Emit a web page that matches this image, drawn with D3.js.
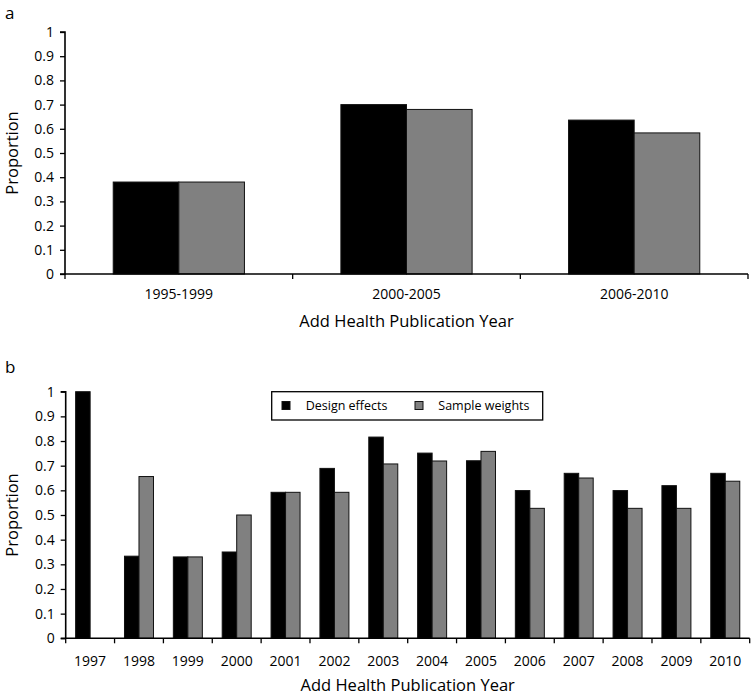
<!DOCTYPE html>
<html><head><meta charset="utf-8">
<script src="https://cdn.jsdelivr.net/npm/d3@7"></script>
<style>
body{margin:0;background:#fff;}
text{font-family:"Open Sans",sans-serif;fill:#000;}
</style></head>
<body>
<svg id="chart" width="751" height="695"></svg>
<script>
// Panel a data
const periods = ["1995-1999","2000-2005","2006-2010"];
const designA = [0.38,0.70,0.636];
const weightsA = [0.38,0.68,0.583];
// Panel b data
const years = ["1997","1998","1999","2000","2001","2002","2003","2004","2005","2006","2007","2008","2009","2010"];
const designB = [1.0,0.333,0.33,0.35,0.592,0.689,0.816,0.751,0.72,0.599,0.669,0.599,0.619,0.669];
const weightsB = [0,0.656,0.33,0.5,0.592,0.592,0.707,0.719,0.758,0.527,0.65,0.527,0.527,0.637];
const yTicks = [0,0.1,0.2,0.3,0.4,0.5,0.6,0.7,0.8,0.9,1];
const seriesNames = ["Design effects","Sample weights"];
const colors = ["#000000","#808080"];

const svg = d3.select("#chart");

function panel(opts){
  const {cats, s1, s2, x0, x1, yTop, yBot, pad, label, labelY, tickLabelY, titleY} = opts;
  const g = svg.append("g");
  const x = d3.scaleBand().domain(cats).range([x0,x1]).padding(0);
  const sub = d3.scaleBand().domain([0,1]).range([0,x.bandwidth()]).paddingInner(0).paddingOuter(pad);
  const y = d3.scaleLinear().domain([0,1]).range([yBot,yTop]);
  const data = cats.map((c,i)=>({c, v:[s1[i],s2[i]]}));

  // bars
  const grp = g.selectAll("g.cat").data(data).join("g").attr("transform",d=>`translate(${x(d.c)},0)`);
  grp.selectAll("rect").data(d=>d.v.map((v,k)=>({v,k})).filter(e=>e.v>0)).join("rect")
    .attr("x",e=>sub(e.k)).attr("width",sub.bandwidth())
    .attr("y",e=>y(e.v)).attr("height",e=>yBot-y(e.v))
    .attr("fill",e=>colors[e.k]).attr("stroke","#111").attr("stroke-width",1);

  // y axis
  const ya = g.append("g").attr("transform",`translate(${x0},0)`)
    .call(d3.axisLeft(y).tickValues(yTicks).tickFormat(d=>d3.format("")(d)).tickSize(5).tickPadding(6));
  ya.select(".domain").attr("stroke","#000").attr("stroke-width",1.6).attr("d",`M-5,${yTop}H0V${yBot}H-5`);
  ya.selectAll(".tick line").attr("stroke","#000").attr("stroke-width",1.3);
  ya.selectAll("text").style("font-size","14px").attr("fill","#000");

  // x axis line
  g.append("line").attr("x1",x0).attr("x2",x1).attr("y1",yBot).attr("y2",yBot)
    .attr("stroke","#000").attr("stroke-width",1.6);
  const bounds = cats.map(c=>x(c)).concat([x1]);
  g.selectAll("line.xt").data(bounds).join("line").attr("class","xt")
    .attr("x1",d=>d).attr("x2",d=>d).attr("y1",yBot).attr("y2",yBot+5)
    .attr("stroke","#000").attr("stroke-width",1.3);
  g.selectAll("text.xl").data(cats).join("text").attr("class","xl")
    .attr("x",d=>x(d)+x.bandwidth()/2).attr("y",tickLabelY).attr("text-anchor","middle")
    .attr("dominant-baseline","central").style("font-size","14px").text(d=>d);

  // titles
  g.append("text").attr("x",(x0+x1)/2).attr("y",titleY).attr("text-anchor","middle")
    .attr("dominant-baseline","central").style("font-size","16.5px").text("Add Health Publication Year");
  g.append("text").attr("transform",`translate(11,${(yTop+yBot)/2}) rotate(-90)`)
    .attr("text-anchor","middle").attr("dominant-baseline","central").style("font-size","16.5px").text("Proportion");
  g.append("text").attr("x",5).attr("y",labelY)
    .style("font-size","17px").text(label);
  return g;
}

panel({cats:periods, s1:designA, s2:weightsA, x0:65, x1:748, yTop:32, yBot:274, pad:0.735,
  label:"a", labelY:19, tickLabelY:293, titleY:320});
panel({cats:years, s1:designB, s2:weightsB, x0:65.7, x1:749.7, yTop:391.7, yBot:638.3, pad:0.685,
  label:"b", labelY:373, tickLabelY:660, titleY:684});

// legend
const lg = svg.append("g");
lg.append("rect").attr("x",271.7).attr("y",391.7).attr("width",271).attr("height",28.3)
  .attr("fill","#fff").attr("stroke","#000").attr("stroke-width",1.3);
const lx = [282, 415], tx = [305.7, 438.3];
seriesNames.forEach((n,i)=>{
  lg.append("rect").attr("x",lx[i]).attr("y",401.5).attr("width",8).attr("height",8)
    .attr("fill",colors[i]).attr("stroke","#111").attr("stroke-width",1);
  lg.append("text").attr("x",tx[i]).attr("y",405.5).attr("dominant-baseline","central")
    .style("font-size","12.5px").text(n);
});
</script>
</body></html>
